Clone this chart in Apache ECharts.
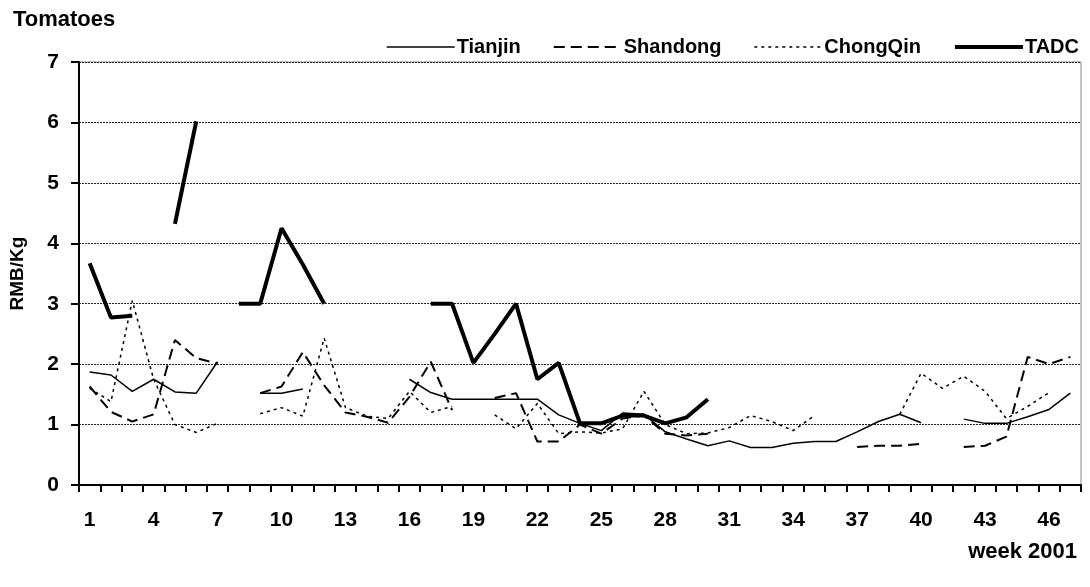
<!DOCTYPE html>
<html>
<head>
<meta charset="utf-8">
<script src="https://cdn.jsdelivr.net/npm/echarts@6/dist/echarts.min.js"></script>
<style>
html,body{margin:0;padding:0;background:#fff;}
#chart{width:1090px;height:587px;}
</style>
</head>
<body>
<div id="chart"></div>
<script>
const weeks = Array.from({length: 47}, (_, i) => String(i + 1));

const tianjin = [1.87,1.82,1.55,1.75,1.54,1.52,2.04,null,1.52,1.52,1.59,null,null,null,null,1.75,1.53,1.42,1.42,1.42,1.42,1.42,1.16,1.02,0.9,1.19,1.17,0.88,0.76,0.65,0.73,0.62,0.62,0.69,0.72,0.72,0.88,1.05,1.17,1.03,null,1.09,1.02,1.02,1.13,1.25,1.52];

const shandong = [1.63,1.21,1.05,1.17,2.4,2.1,2.01,null,1.52,1.63,2.2,1.65,1.2,1.13,1.03,1.46,2.04,1.24,null,1.44,1.52,0.72,0.72,1.0,0.85,1.1,1.15,0.85,0.82,0.85,null,null,null,null,null,null,0.63,0.65,0.65,0.68,null,0.63,0.65,0.8,2.12,2.0,2.12];

const chongqin = [1.6,1.38,3.05,1.75,1.0,0.87,1.02,null,1.18,1.28,1.14,2.43,1.28,1.14,1.1,1.55,1.2,1.3,null,1.16,0.93,1.35,0.85,0.88,0.86,0.93,1.55,1.0,0.85,0.86,0.95,1.15,1.05,0.9,1.15,null,null,null,1.17,1.85,1.6,1.8,1.55,1.1,1.3,1.53,null];

const tadc = [3.67,2.77,2.8,null,4.32,6.02,null,3.0,3.0,4.25,3.65,3.0,null,null,null,null,3.0,3.0,2.02,2.5,3.0,1.75,2.02,1.02,1.02,1.15,1.15,1.02,1.12,1.42,null,null,null,null,null,null,null,null,null,null,null,null,null,null,null,null,null];

const yTicks = [0,1,2,3,4,5,6,7];
const seriesNames = ['Tianjin','Shandong','ChongQin','TADC'];

const FONT = '"Liberation Sans", Arial, sans-serif';

const chart = echarts.init(document.getElementById('chart'));
chart.setOption({
  animation: false,
  backgroundColor: '#fff',
  title: [
    {text: 'Tomatoes', left: 8, top: 4, textStyle: {fontFamily: FONT, fontWeight: 'bold', fontSize: 22, color: '#000'}},
    {text: 'week 2001', right: 8, top: 536, textStyle: {fontFamily: FONT, fontWeight: 'bold', fontSize: 22, color: '#000'}}
  ],
  legend: {
    top: 32, right: 6,
    itemWidth: 68, itemHeight: 14, itemGap: 32,
    itemStyle: {opacity: 0},
    textStyle: {fontFamily: FONT, fontWeight: 'bold', fontSize: 20, color: '#000', padding: [0,0,0,-3]},
    data: [
      {name: seriesNames[0], lineStyle: {width: 1.5}},
      {name: seriesNames[1], lineStyle: {width: 2}},
      {name: seriesNames[2], lineStyle: {width: 1.5}},
      {name: seriesNames[3], lineStyle: {width: 4}}
    ]
  },
  grid: {left: 79, right: 9, top: 62, bottom: 102, show: true, borderColor: '#888', borderWidth: 1},
  xAxis: {
    type: 'category', data: weeks, boundaryGap: true,
    axisLine: {lineStyle: {color: '#000', width: 2}},
    axisTick: {show: true, length: 7, interval: 0, lineStyle: {color: '#000', width: 2}},
    axisLabel: {interval: 2, margin: 25, fontFamily: FONT, fontWeight: 'bold', fontSize: 21, color: '#000'}
  },
  yAxis: {
    type: 'value', min: 0, max: 7, interval: 1,
    name: 'RMB/Kg', nameLocation: 'middle', nameGap: 52,
    nameTextStyle: {fontFamily: FONT, fontWeight: 'bold', fontSize: 19, color: '#000'},
    axisLine: {show: true, lineStyle: {color: '#000', width: 2}},
    axisTick: {show: true, length: 8, lineStyle: {color: '#000', width: 2}},
    axisLabel: {margin: 20, fontFamily: FONT, fontWeight: 'bold', fontSize: 21, color: '#000',
      formatter: v => yTicks.includes(v) ? String(v) : ''},
    splitLine: {show: true, lineStyle: {color: '#222', width: 1, type: [2,1]}}
  },
  series: [
    {name: seriesNames[0], type: 'line', data: tianjin, symbol: 'none', connectNulls: false,
     lineStyle: {color: '#000', width: 1.5, type: 'solid'}, itemStyle: {color: '#000'}},
    {name: seriesNames[1], type: 'line', data: shandong, symbol: 'none', connectNulls: false,
     lineStyle: {color: '#000', width: 2, type: [11,6]}, itemStyle: {color: '#000'}},
    {name: seriesNames[2], type: 'line', data: chongqin, symbol: 'none', connectNulls: false,
     lineStyle: {color: '#000', width: 1.5, type: [3,4]}, itemStyle: {color: '#000'}},
    {name: seriesNames[3], type: 'line', data: tadc, symbol: 'none', connectNulls: false,
     lineStyle: {color: '#000', width: 4, type: 'solid'}, itemStyle: {color: '#000'}}
  ]
});
</script>
</body>
</html>
